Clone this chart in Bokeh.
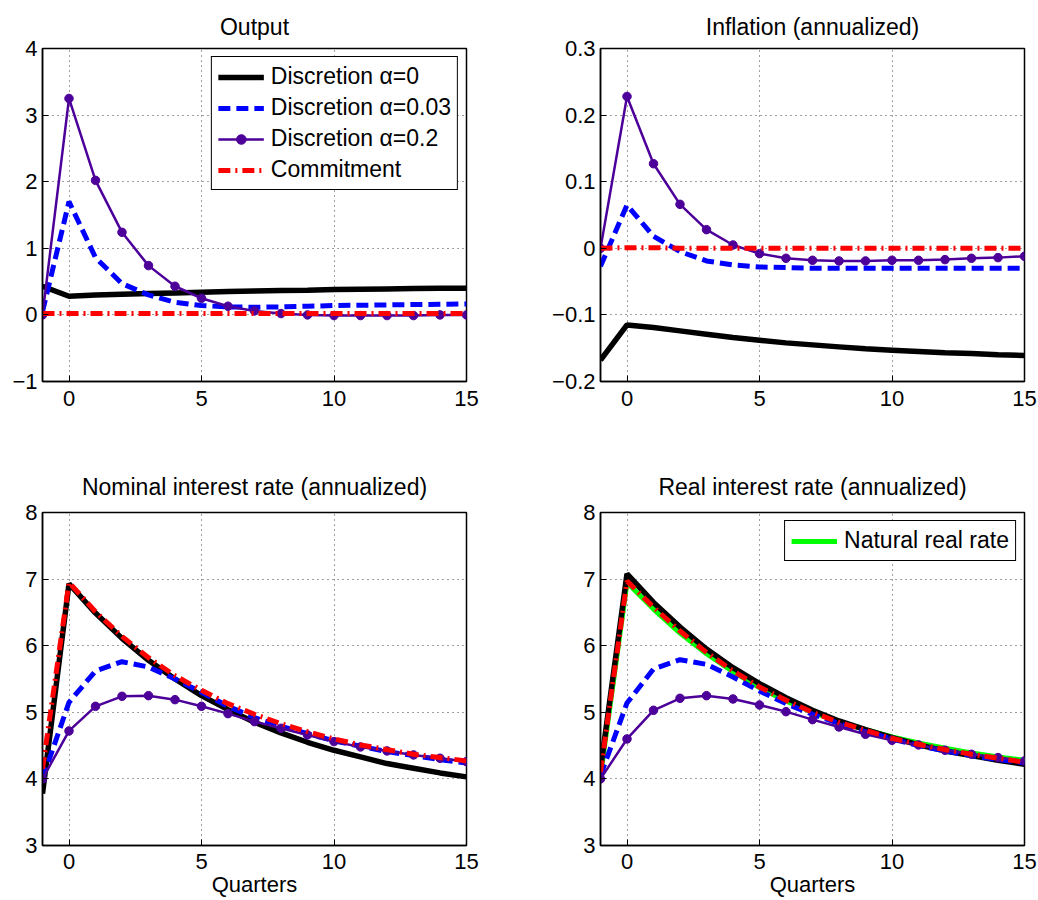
from bokeh.plotting import figure
from bokeh.models import Range1d, FixedTicker, CustomJSTickFormatter
from bokeh.layouts import column, row
from bokeh.embed import file_html
from bokeh.resources import INLINE

quarters = list(range(-1, 16))

# Output
out_disc0 = [0.43, 0.28, 0.30, 0.31, 0.32, 0.33, 0.34, 0.35, 0.36, 0.365, 0.37, 0.38, 0.385, 0.39, 0.395, 0.40, 0.40]
out_disc003 = [0.05, 1.70, 0.86, 0.47, 0.30, 0.19, 0.14, 0.12, 0.115, 0.12, 0.13, 0.14, 0.145, 0.15, 0.155, 0.16, 0.165]
out_disc02 = [0.0, 3.25, 2.02, 1.24, 0.74, 0.43, 0.25, 0.13, 0.06, 0.02, 0.0, -0.01, -0.01, -0.01, -0.01, 0.0, 0.0]
out_commit = [0.02, 0.02, 0.02, 0.02, 0.02, 0.02, 0.02, 0.02, 0.02, 0.02, 0.02, 0.02, 0.02, 0.02, 0.02, 0.02, 0.02]

# Inflation (annualized)
inf_disc0 = [-0.168, -0.115, -0.119, -0.124, -0.129, -0.134, -0.138, -0.142, -0.145, -0.148, -0.151, -0.153, -0.155, -0.157, -0.158, -0.160, -0.161]
inf_disc003 = [-0.027, 0.065, 0.018, -0.005, -0.019, -0.025, -0.028, -0.029, -0.030, -0.030, -0.030, -0.030, -0.030, -0.030, -0.030, -0.030, -0.030]
inf_disc02 = [0.0, 0.228, 0.127, 0.066, 0.028, 0.005, -0.008, -0.015, -0.018, -0.019, -0.019, -0.018, -0.018, -0.017, -0.015, -0.014, -0.012]
inf_commit = [0.0, 0.001, 0.001, 0.0, 0.0, 0.0, 0.0, 0.0, 0.0, 0.0, 0.0, 0.0, 0.0, 0.0, 0.0, 0.0, 0.0]

# Nominal interest rate (annualized)
nom_disc0 = [3.78, 6.93, 6.49, 6.11, 5.78, 5.50, 5.25, 5.04, 4.85, 4.69, 4.55, 4.43, 4.33, 4.23, 4.16, 4.09, 4.03]
nom_disc003 = [4.0, 5.15, 5.62, 5.76, 5.68, 5.50, 5.30, 5.09, 4.92, 4.79, 4.68, 4.57, 4.49, 4.41, 4.35, 4.29, 4.24]
nom_disc02 = [4.0, 4.72, 5.09, 5.24, 5.25, 5.19, 5.09, 4.98, 4.86, 4.76, 4.66, 4.56, 4.48, 4.42, 4.36, 4.31, 4.26]
nom_commit = [4.15, 6.95, 6.51, 6.14, 5.82, 5.55, 5.33, 5.13, 4.97, 4.83, 4.71, 4.60, 4.51, 4.44, 4.37, 4.32, 4.27]

# Real interest rate (annualized)
real_disc0 = [4.15, 7.08, 6.65, 6.28, 5.95, 5.67, 5.43, 5.22, 5.03, 4.87, 4.74, 4.62, 4.51, 4.42, 4.35, 4.28, 4.22]
real_disc003 = [4.05, 5.14, 5.65, 5.79, 5.72, 5.53, 5.32, 5.13, 4.97, 4.83, 4.71, 4.60, 4.50, 4.42, 4.35, 4.29, 4.24]
real_disc02 = [4.0, 4.60, 5.03, 5.21, 5.25, 5.20, 5.11, 5.01, 4.89, 4.78, 4.67, 4.58, 4.51, 4.43, 4.37, 4.32, 4.27]
real_commit = [4.1, 6.97, 6.58, 6.22, 5.90, 5.62, 5.38, 5.18, 5.00, 4.85, 4.73, 4.61, 4.52, 4.44, 4.37, 4.31, 4.25]
natural_rate = [4.05, 6.95, 6.55, 6.19, 5.88, 5.61, 5.37, 5.17, 5.00, 4.86, 4.74, 4.63, 4.54, 4.46, 4.39, 4.33, 4.28]

x_ticks = [0, 5, 10, 15]
out_ticks = [-1, 0, 1, 2, 3, 4]
inf_ticks = [-0.2, -0.1, 0, 0.1, 0.2, 0.3]
rate_ticks = [3, 4, 5, 6, 7, 8]

labels = ["Discretion \u03b1=0", "Discretion \u03b1=0.03", "Discretion \u03b1=0.2", "Commitment"]

FONT = "Liberation Sans"
PURPLE = "#4d0099"

fmt_code = "return tick < 0 ? '\u2212' + String(-tick) : String(tick);"


def panel(title, yr, yticks, s0, s003, s02, sc, borders, title_standoff,
          xlabel=None, legend=False, natural=None):
    left, right, top, bottom = borders
    p = figure(frame_width=424, frame_height=333, output_backend="svg",
               toolbar_location=None, x_range=Range1d(-1, 15),
               y_range=Range1d(*yr), min_border_left=left,
               min_border_right=right, min_border_top=top,
               min_border_bottom=bottom)
    p.title.text = title
    p.title.align = "center"
    p.title.text_font = FONT
    p.title.text_font_size = "23px"
    p.title.text_font_style = "normal"
    p.title.text_color = "black"
    p.title.standoff = title_standoff
    p.outline_line_color = "black"
    p.outline_line_width = 1.5
    p.outline_line_alpha = 1.0
    p.background_fill_color = "white"
    p.border_fill_color = "white"

    p.xaxis.ticker = FixedTicker(ticks=x_ticks)
    p.yaxis.ticker = FixedTicker(ticks=yticks)
    for ax in (p.xaxis[0], p.yaxis[0]):
        ax.formatter = CustomJSTickFormatter(code=fmt_code)
        ax.major_label_text_font = FONT
        ax.major_label_text_font_size = "22px"
        ax.major_label_text_color = "black"
        ax.axis_line_color = "black"
        ax.axis_line_width = 1.5
        ax.major_tick_in = 6
        ax.major_tick_out = 0
        ax.major_tick_line_color = "black"
        ax.minor_tick_line_color = None
    p.xaxis.major_label_standoff = 9
    p.yaxis.major_label_standoff = 5
    if xlabel:
        p.xaxis.major_label_standoff = 8
        p.xaxis.axis_label = xlabel
        p.xaxis.axis_label_text_font = FONT
        p.xaxis.axis_label_text_font_size = "22px"
        p.xaxis.axis_label_text_font_style = "normal"
        p.xaxis.axis_label_text_color = "black"
        p.xaxis.axis_label_standoff = 0

    for g in (p.xgrid[0], p.ygrid[0]):
        g.grid_line_color = "black"
        g.grid_line_alpha = 0.75
        g.grid_line_dash = "1 4"
        g.grid_line_width = 1

    if natural is not None:
        p.line(quarters, natural, line_color="#00ff00", line_width=5,
               legend_label="Natural real rate")

    kw0 = dict(legend_label=labels[0]) if legend else {}
    kw1 = dict(legend_label=labels[1]) if legend else {}
    kw2 = dict(legend_label=labels[2]) if legend else {}
    kw3 = dict(legend_label=labels[3]) if legend else {}
    p.line(quarters, s0, line_color="black", line_width=5.5, **kw0)
    p.line(quarters, s003, line_color="#0000ff", line_width=5,
           line_dash="12 6", **kw1)
    p.line(quarters, s02, line_color=PURPLE, line_width=2.5, **kw2)
    p.scatter(quarters, s02, marker="circle", size=8.5, fill_color=PURPLE,
              line_color=PURPLE, **kw2)
    p.line(quarters, sc, line_color="#ff0000", line_width=5,
           line_dash="12 5 2 5", **kw3)

    if legend or natural is not None:
        lg = p.legend[0]
        lg.location = "top_right"
        lg.margin = 8
        lg.padding = 6
        lg.spacing = 4 if legend else 0
        lg.border_line_color = "black"
        lg.border_line_width = 1
        lg.border_line_alpha = 1.0
        lg.background_fill_alpha = 1.0
        lg.label_text_font = FONT
        lg.label_text_font_size = "23px"
        lg.label_text_color = "black"
        lg.label_height = 24
        lg.glyph_height = 24
        lg.glyph_width = 46
        lg.label_standoff = 7
    return p


p1 = panel("Output", (-1, 4), out_ticks, out_disc0, out_disc003, out_disc02,
           out_commit, (42, 53, 48, 69), 18, legend=True)
p2 = panel("Inflation (annualized)", (-0.2, 0.3), inf_ticks, inf_disc0,
           inf_disc003, inf_disc02, inf_commit, (81, 14, 48, 69), 18)
p3 = panel("Nominal interest rate (annualized)", (3, 8), rate_ticks, nom_disc0,
           nom_disc003, nom_disc02, nom_commit, (42, 53, 62, 50), 26,
           xlabel="Quarters")
p4 = panel("Real interest rate (annualized)", (3, 8), rate_ticks, real_disc0,
           real_disc003, real_disc02, real_commit, (81, 14, 62, 50), 26,
           xlabel="Quarters", natural=natural_rate)

layout = column(row(p1, p2), row(p3, p4))
open("out.html", "w").write(file_html(layout, INLINE))
